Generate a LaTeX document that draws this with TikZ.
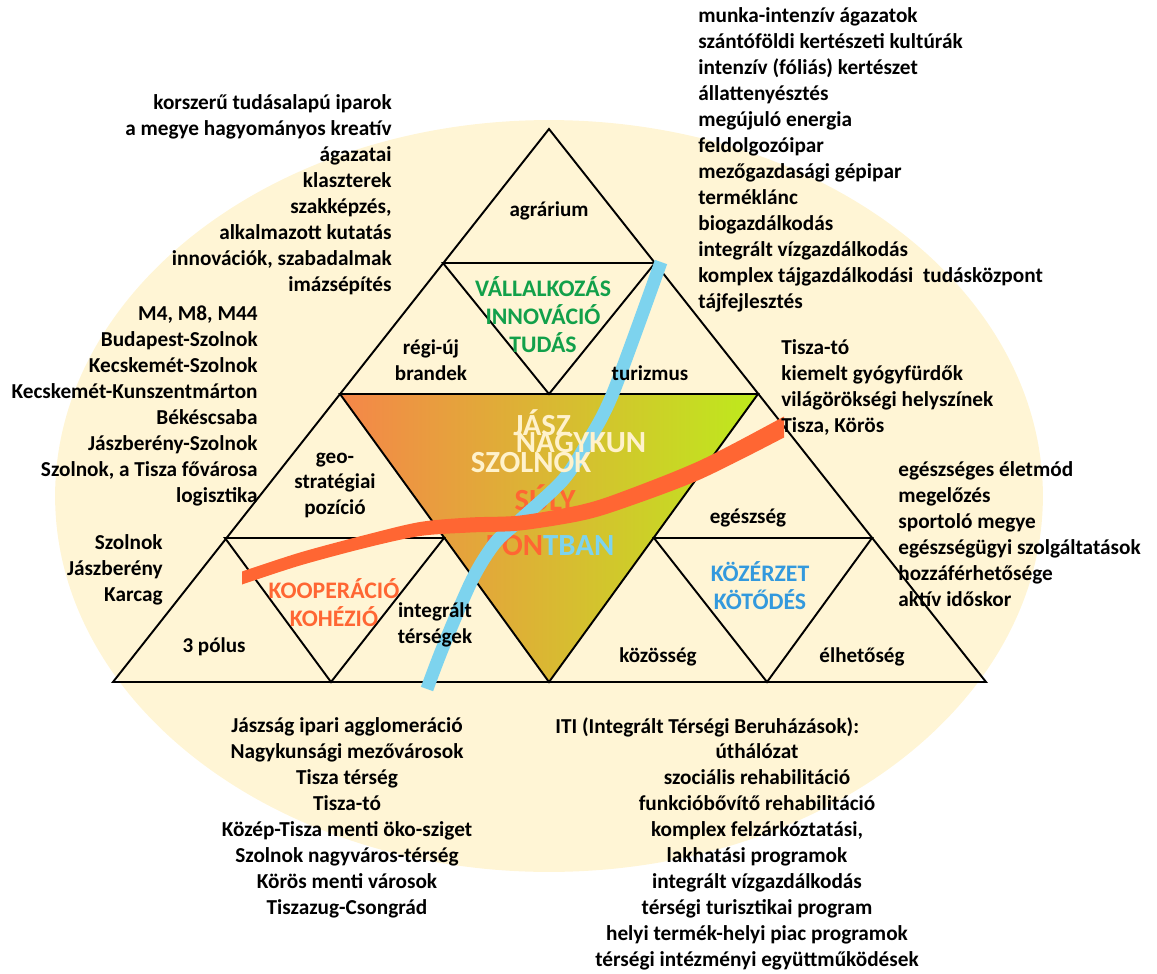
\documentclass[tikz,border=0pt]{standalone}
\usepackage{fontspec}
\setmainfont{Carlito}
\usetikzlibrary{calc}
\definecolor{Cream}{HTML}{FFF5D5}
\definecolor{LeafGreen}{HTML}{12A04A}
\definecolor{Coral}{HTML}{FF6633}
\definecolor{SkyBlue}{HTML}{7DD3EE}
\definecolor{Azure}{HTML}{3399DD}
\definecolor{PaleText}{HTML}{FFF2CC}
\definecolor{GradL}{HTML}{F58649}
\definecolor{GradM}{HTML}{DCAF36}
\definecolor{GradR}{HTML}{BEEA1C}

\begin{document}
\begin{tikzpicture}[x=0.02cm,y=-0.02cm,
    lst/.style={inner sep=0pt,font=\bfseries\fontsize{12.1}{14.8}\selectfont},
    lbl/.style={inner sep=0pt,align=center,font=\bfseries\fontsize{12}{14.5}\selectfont},
    key/.style={inner sep=0pt,align=center,font=\bfseries\fontsize{13.5}{16}\selectfont},
    big/.style={inner sep=0pt,font=\bfseries\fontsize{17.5}{18}\selectfont},
    edge/.style={line width=1.1pt,line join=miter}]
  \useasboundingbox (0,0) rectangle (1157,974);
  \fill[Cream] (549,496) ellipse [x radius=9.88cm,y radius=7.52cm];

  % corners of the big triangle and its parts
  \coordinate (apex) at (549,129);
  \coordinate (bl) at (113,682);
  \coordinate (br) at (986,682);
  \coordinate (bm) at (549,682);
  \coordinate (ml) at (340,394);
  \coordinate (mr) at (758,394);
  \coordinate (mm) at (549,394);
  \coordinate (tl) at (443,263);
  \coordinate (tr) at (655,263);
  \coordinate (ll) at (225,538);
  \coordinate (lr) at (444,538);
  \coordinate (lb) at (331,682);
  \coordinate (rl) at (654,538);
  \coordinate (rr) at (872,538);
  \coordinate (rb) at (767,682);

  \shade[left color=GradL,middle color=GradM,right color=GradR] (ml)--(mr)--(bm)--cycle;

  \draw[edge] (apex)--(bl)--(br)--cycle;
  \draw[edge] (ml)--(mr)--(bm)--cycle;
  \draw[edge] (tl)--(tr)--(mm)--cycle;
  \draw[edge] (ll)--(lr)--(lb)--cycle;
  \draw[edge] (rl)--(rr)--(rb)--cycle;

  \node[big,text=Coral] (suly) at (545,498) {SÚLY};
  \node[big] (pont) at (550,546) {\textcolor{Coral}{PON}\textcolor{SkyBlue}{TBAN}};

  % the two bands
  \draw[SkyBlue,line width=0.26cm] plot[smooth] coordinates {(661,262) (613,393) (587,443) (563,480) (520,520) (495,543) (472,580) (443,647) (427,689)};
  \fill[Coral] plot[smooth] coordinates {(242,571.5) (300,552.5) (367,534.5) (420,522) (470,517.5) (520,515.5) (580,505) (620,492.5) (700,460.5) (784,416.5)}
    -- plot[smooth] coordinates {(784,437.5) (700,479.5) (620,509.5) (580,521) (520,530.5) (470,532.5) (420,536) (367,547.5) (300,565.5) (242,584.5)} -- cycle;

  \node[big,text=PaleText] (jasz) at (542,423) {JÁSZ};
  \node[big,text=PaleText] (nagy) at (581,443) {NAGYKUN};
  \node[big,text=PaleText] (szol) at (531,463) {SZOLNOK};

  % triangle labels
  \node[lbl] (agr) at (549,211) {agrárium};
  \node[lbl] (brand) at (431,360) {régi-új\\brandek};
  \node[lbl] (tur) at (650,373) {turizmus};
  \node[lbl] (geo) at (335,485) {geo-\\stratégiai\\pozíció};
  \node[lbl] (pol) at (214,647) {3 pólus};
  \node[lbl] (integ) at (435,625) {integrált\\térségek};
  \node[lbl] (egs) at (748,518) {egészség};
  \node[lbl] (koz) at (658,657) {közösség};
  \node[lbl] (elh) at (862,657) {élhetőség};
  \node[key,text=LeafGreen] (vall) at (543,315) {VÁLLALKOZÁS\\INNOVÁCIÓ\\TUDÁS};
  \node[key,text=Coral] (koop) at (334,603) {KOOPERÁCIÓ\\KOHÉZIÓ};
  \node[key,text=Azure] (kozerz) at (760,586) {KÖZÉRZET\\KÖTŐDÉS};

  % lists round the triangle
  \node[lst,anchor=east,align=right] (ipar) at (392,195) {korszerű tudásalapú iparok\\a megye hagyományos kreatív\\ágazatai\\klaszterek\\szakképzés,\\alkalmazott kutatás\\innovációk, szabadalmak\\imázsépítés};
  \node[lst,anchor=east,align=right] (utak) at (258,406) {M4, M8, M44\\Budapest-Szolnok\\Kecskemét-Szolnok\\Kecskemét-Kunszentmárton\\Békéscsaba\\Jászberény-Szolnok\\Szolnok, a Tisza fővárosa\\logisztika};
  \node[lst,anchor=east,align=right] (varos) at (163,570) {Szolnok\\Jászberény\\Karcag};
  \node[lst,anchor=west,align=left] (agrlist) at (698,160) {munka-intenzív ágazatok\\szántóföldi kertészeti kultúrák\\intenzív (fóliás) kertészet\\állattenyésztés\\megújuló energia\\feldolgozóipar\\mezőgazdasági gépipar\\terméklánc\\biogazdálkodás\\integrált vízgazdálkodás\\komplex tájgazdálkodási\ \ tudásközpont\\tájfejlesztés};
  \node[lst,anchor=west,align=left] (turlist) at (781,387) {Tisza-tó\\kiemelt gyógyfürdők\\világörökségi helyszínek\\Tisza, Körös};
  \node[lst,anchor=west,align=left] (eglist) at (898,534) {egészséges életmód\\megelőzés\\sportoló megye\\egészségügyi szolgáltatások\\hozzáférhetősége\\aktív időskor};
  \node[lst,align=center] (tersegek) at (347,818) {Jászság ipari agglomeráció\\Nagykunsági mezővárosok\\Tisza térség\\Tisza-tó\\Közép-Tisza menti öko-sziget\\Szolnok nagyváros-térség\\Körös menti városok\\Tiszazug-Csongrád};
  \node[lst,anchor=west] (iti) at (555,727) {ITI (Integrált Térségi Beruházások):};
  \node[lst,align=center] (itilist) at (757,857) {úthálózat\\szociális rehabilitáció\\funkcióbővítő rehabilitáció\\komplex felzárkóztatási,\\lakhatási programok\\integrált vízgazdálkodás\\térségi turisztikai program\\helyi termék-helyi piac programok\\térségi intézményi együttműködések};
\end{tikzpicture}
\end{document}
